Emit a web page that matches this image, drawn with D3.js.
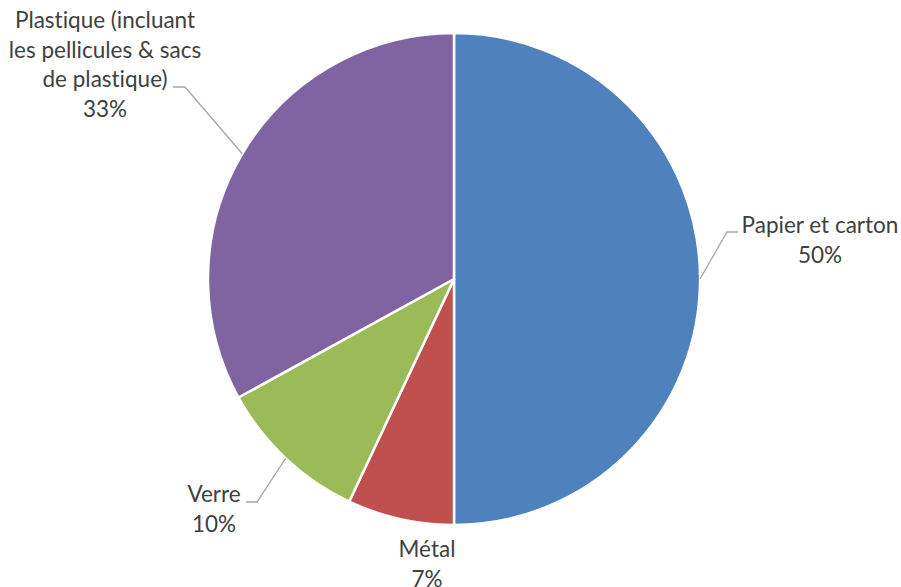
<!DOCTYPE html>
<html>
<head>
<meta charset="utf-8">
<script src="https://cdn.jsdelivr.net/npm/d3@7"></script>
<style>
  html, body { margin: 0; padding: 0; background: #fff; }
  svg text {
    font-family: Lato, "Open Sans", sans-serif;
    fill: #404040;
    font-variant-ligatures: none;
    font-feature-settings: "liga" 0, "clig" 0;
  }
</style>
</head>
<body>
<svg id="chart" width="901" height="587"></svg>
<script>
// Composition of the recycled material stream (share, %)
const categories = ["Papier et carton", "Métal", "Verre", "Plastique (incluant les pellicules & sacs de plastique)"];
const values = [50, 7, 10, 33];
const labelLines = [
  ["Papier et carton"],
  ["Métal"],
  ["Verre"],
  ["Plastique (incluant", "les pellicules & sacs", "de plastique)"]
];
const colors = ["#4F81BD", "#C0504D", "#9BBB59", "#8064A2"];

const svg = d3.select("#chart");
const cx = 454, cy = 279, radius = 246;
const fontSize = 22.5, lineGap = 29.5;

const pie = d3.pie().sort(null).value(d => d.value);
const arc = d3.arc().innerRadius(0).outerRadius(radius);

const data = categories.map((c, i) => ({
  name: c, value: values[i], lines: labelLines[i], color: colors[i]
}));
const arcs = pie(data);

const g = svg.append("g").attr("transform", `translate(${cx},${cy})`);

g.selectAll("path.slice")
  .data(arcs)
  .join("path")
  .attr("class", "slice")
  .attr("d", arc)
  .attr("fill", d => d.data.color)
  .attr("stroke", "#fff")
  .attr("stroke-width", 2.5)
  .attr("stroke-linejoin", "round");

// Label placement (relative to pie centre): text anchor point and leader elbow
const layout = [
  { tx: 366, ty: -46, elbow: [273, -47], tail: [284, -47] },   // Papier et carton
  { tx: -27, ty: 278, elbow: null, tail: null },                // Métal
  { tx: -240, ty: 223, elbow: [-197, 223], tail: [-208, 223] }, // Verre
  { tx: -349, ty: -251, elbow: [-269, -192], tail: [-281, -192] } // Plastique
];

const edgePoint = d => {
  const a = (d.startAngle + d.endAngle) / 2;
  return [Math.sin(a) * radius, -Math.cos(a) * radius];
};

const line = d3.line();

arcs.forEach((d, i) => {
  const L = layout[i];
  if (L.elbow) {
    g.append("path")
      .attr("d", line([edgePoint(d), L.elbow, L.tail]))
      .attr("fill", "none")
      .attr("stroke", "#A6A6A6")
      .attr("stroke-width", 1.3);
  }
  const t = g.append("text")
    .attr("text-anchor", "middle")
    .attr("font-size", fontSize);
  const all = d.data.lines.concat([Math.round(d.data.value) + "%"]);
  all.forEach((s, j) => {
    t.append("tspan")
      .attr("x", L.tx)
      .attr("y", L.ty + j * lineGap)
      .text(s);
  });
});
</script>
</body>
</html>
